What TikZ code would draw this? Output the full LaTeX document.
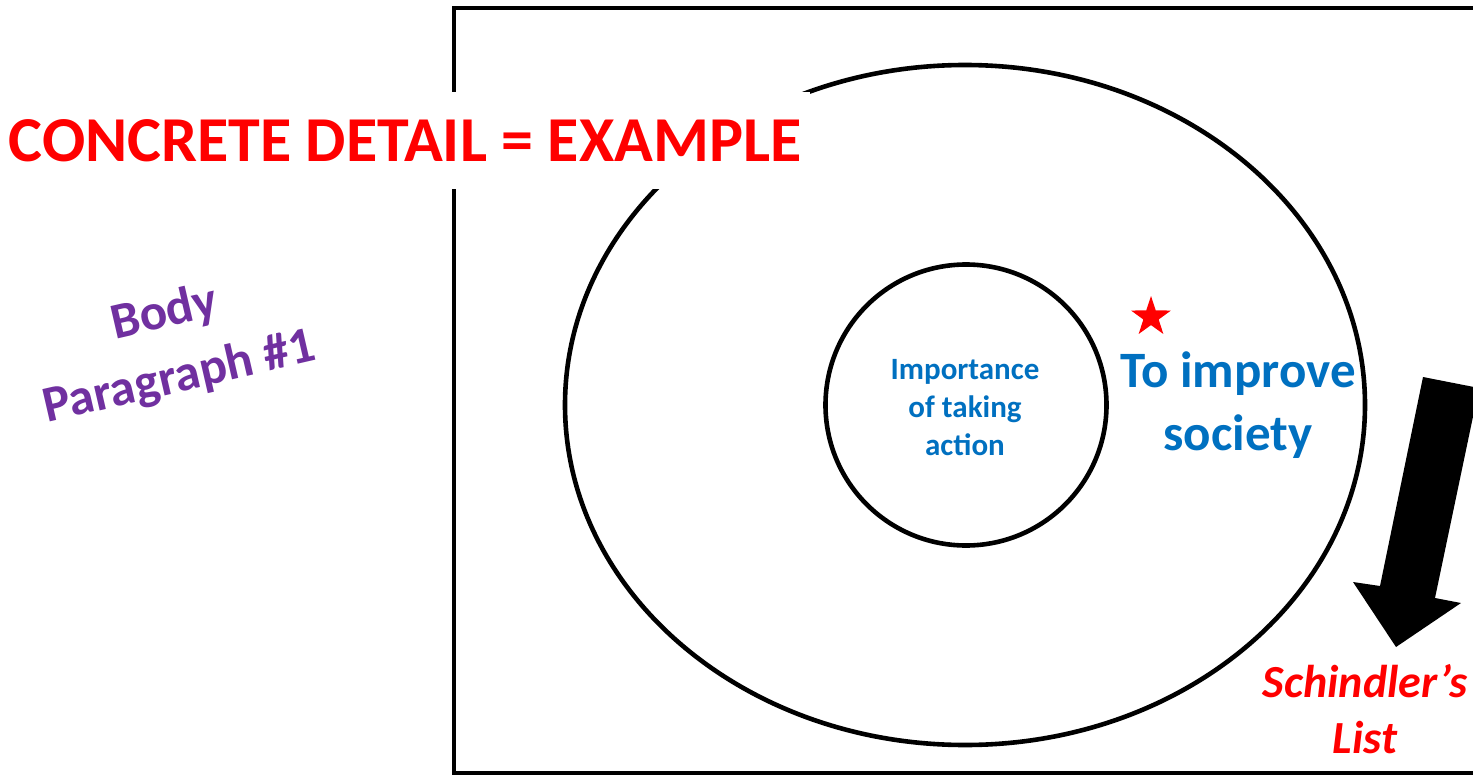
\documentclass[tikz,border=0pt]{standalone}
\usepackage{fontspec}
\setmainfont{Carlito}
\usetikzlibrary{shapes.geometric}
\definecolor{cred}{RGB}{255,0,0}
\definecolor{cblue}{RGB}{0,112,192}
\definecolor{cpurple}{RGB}{112,48,160}
\tikzset{
  outline/.style={draw=black, line width=4.6pt},
  bluetext/.style={text=cblue, font=\bfseries, align=center, inner sep=0pt},
}
\begin{document}
\begin{tikzpicture}[x=1pt,y=-1pt]
\useasboundingbox (0,0) rectangle (1473,776);
\clip (0,0) rectangle (1473,776);
\fill[white] (0,0) rectangle (1473,776);
% frame
\draw[outline] (454,8) rectangle (1500,773);
% outer ellipse and inner circle
\node[outline, ellipse, minimum width=800pt, minimum height=680pt, inner sep=0pt] (outer) at (965,405) {};
\node[outline, circle, minimum size=281pt, inner sep=0pt] (inner) at (966,405) {};
% title band
\fill[white] (0,92) rectangle (810,189);
\node[anchor=base, text=cred, font=\bfseries\fontsize{64}{70}\selectfont, inner sep=0pt] (title) at (405,161) {CONCRETE DETAIL = EXAMPLE};
% body paragraph label
\node[rotate=13, text=cpurple, font=\bfseries\fontsize{51}{66}\selectfont, align=center, inner sep=0pt] (body) at (172,346) {Body\\Paragraph \#1};
% inner texts (base anchor = baseline of last line)
\node[bluetext, font=\bfseries\fontsize{31}{38}\selectfont, anchor=base] (imp) at (965,455) {Importance\\of taking\\action};
\node[bluetext, font=\bfseries\fontsize{51}{63}\selectfont, anchor=base] (soc) at (1238,450) {To improve\\society};
% star
\node[star, star points=5, star point ratio=2.6, fill=cred, minimum size=42pt, inner sep=0pt] (st) at (1151,317) {};
% arrow
\fill[black] (1423,377) -- (1479,388) -- (1435,598) -- (1461,603) -- (1396,647) -- (1353,582) -- (1380,586) -- cycle;
\coordinate (arrtip) at (1396,647);
% Schindler's list
\node[text=cred, font=\bfseries\itshape\fontsize{46}{56}\selectfont, align=center, anchor=base, inner sep=0pt] (sl) at (1365,753) {Schindler’s\\List};
\end{tikzpicture}
\end{document}
